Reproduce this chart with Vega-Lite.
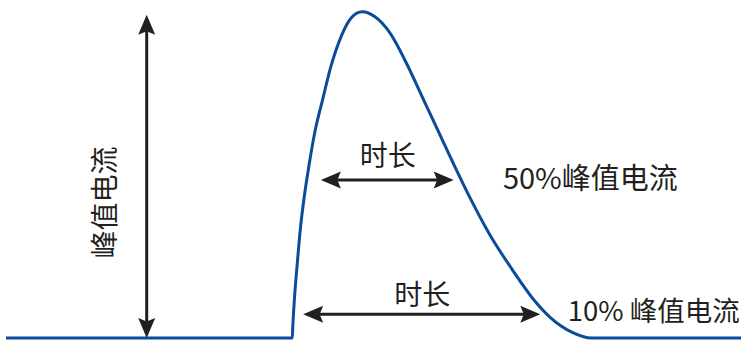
{
  "$schema": "https://vega.github.io/schema/vega-lite/v6.json",
  "width": 747,
  "height": 344,
  "autosize": {"type": "fit", "contains": "padding"},
  "padding": 0,
  "background": "white",
  "config": {"view": {"stroke": null}},
  "datasets": {
    "pulse": [
      {"t": 0, "i": 0}, {"t": 291, "i": 0}, {"t": 291.5, "i": 12}, {"t": 293.3, "i": 42},
      {"t": 296, "i": 75}, {"t": 299, "i": 109}, {"t": 303, "i": 142}, {"t": 308, "i": 175},
      {"t": 314, "i": 209}, {"t": 322, "i": 242}, {"t": 330, "i": 274}, {"t": 341, "i": 306},
      {"t": 351, "i": 324}, {"t": 362, "i": 330}, {"t": 375, "i": 325},
      {"t": 390, "i": 309}, {"t": 408, "i": 276}, {"t": 423, "i": 244},
      {"t": 438, "i": 212}, {"t": 454, "i": 178}, {"t": 471, "i": 143}, {"t": 492, "i": 104},
      {"t": 514, "i": 70}, {"t": 537, "i": 38}, {"t": 553, "i": 21}, {"t": 575, "i": 6},
      {"t": 595, "i": 0}, {"t": 747, "i": 0}
    ],
    "shafts": [
      {"x": 143, "x2": 143, "y": 10, "y2": 317},
      {"x": 330, "x2": 445, "y": 160, "y2": 160},
      {"x": 312, "x2": 533, "y": 24, "y2": 24}
    ],
    "heads": [
      {"x": 143, "y": 327, "dir": 270},
      {"x": 143, "y": 0, "dir": 90},
      {"x": 320, "y": 160, "dir": 180},
      {"x": 455, "y": 160, "dir": 0},
      {"x": 302, "y": 24, "dir": 180},
      {"x": 543, "y": 24, "dir": 0}
    ],
    "centerLabels": [
      {"x": 388, "y": 182, "label": "时长"},
      {"x": 423, "y": 42, "label": "时长"}
    ],
    "upperSide": [
      {"x": 505, "y": 160, "label": "50%峰值电流"}
    ],
    "lowerSide": [
      {"x": 571, "y": 25, "label": "10% 峰值电流"}
    ],
    "vLabel": [
      {"x": 103, "y": 137, "label": "峰值电流"}
    ]
  },
  "layer": [
    {
      "data": {"name": "pulse"},
      "mark": {"type": "line", "interpolate": "monotone", "color": "#0a4b9a", "strokeWidth": 3},
      "encoding": {
        "x": {"field": "t", "type": "quantitative", "scale": {"domain": [0, 747], "nice": false, "zero": false}, "axis": null},
        "y": {"field": "i", "type": "quantitative", "scale": {"domain": [-2, 342], "nice": false, "zero": false}, "axis": null}
      }
    },
    {
      "data": {"name": "shafts"},
      "mark": {"type": "rule", "color": "#231f20", "strokeWidth": 3},
      "encoding": {
        "x": {"field": "x", "type": "quantitative"},
        "x2": {"field": "x2"},
        "y": {"field": "y", "type": "quantitative"},
        "y2": {"field": "y2"}
      }
    },
    {
      "data": {"name": "heads"},
      "mark": {"type": "point", "filled": true, "color": "#231f20", "opacity": 1, "strokeWidth": 0, "size": 400,
               "shape": "M0,0L-2,-0.85L-1.65,0L-2,0.85Z"},
      "encoding": {
        "x": {"field": "x", "type": "quantitative"},
        "y": {"field": "y", "type": "quantitative"},
        "angle": {"field": "dir", "type": "quantitative", "scale": null}
      }
    },
    {
      "data": {"name": "centerLabels"},
      "mark": {"type": "text", "font": "Noto Sans CJK SC", "fontSize": 28, "color": "#231f20", "align": "center", "baseline": "middle"},
      "encoding": {
        "x": {"field": "x", "type": "quantitative"},
        "y": {"field": "y", "type": "quantitative"},
        "text": {"field": "label"}
      }
    },
    {
      "data": {"name": "upperSide"},
      "mark": {"type": "text", "font": "Noto Sans CJK SC", "fontSize": 29, "color": "#231f20", "align": "left", "baseline": "middle"},
      "encoding": {
        "x": {"field": "x", "type": "quantitative"},
        "y": {"field": "y", "type": "quantitative"},
        "text": {"field": "label"}
      }
    },
    {
      "data": {"name": "lowerSide"},
      "mark": {"type": "text", "font": "Noto Sans CJK SC", "fontSize": 27.5, "color": "#231f20", "align": "left", "baseline": "middle"},
      "encoding": {
        "x": {"field": "x", "type": "quantitative"},
        "y": {"field": "y", "type": "quantitative"},
        "text": {"field": "label"}
      }
    },
    {
      "data": {"name": "vLabel"},
      "mark": {"type": "text", "font": "Noto Sans CJK SC", "fontSize": 28, "color": "#231f20", "align": "center", "baseline": "middle", "angle": 270},
      "encoding": {
        "x": {"field": "x", "type": "quantitative"},
        "y": {"field": "y", "type": "quantitative"},
        "text": {"field": "label"}
      }
    }
  ]
}
